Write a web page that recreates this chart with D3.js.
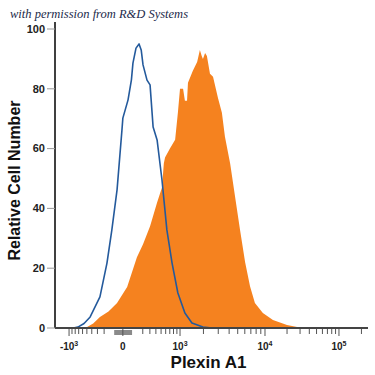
<!DOCTYPE html>
<html>
<head>
<meta charset="utf-8">
<script src="https://cdn.jsdelivr.net/npm/d3@7"></script>
<style>
  body { margin: 0; background: #fff; }
  svg { display: block; }
</style>
</head>
<body>
<div id="chart"></div>
<script>
// histogram data on a 0-1024 display channel scale
const blueChannel = [0, 60, 75, 95, 115, 147, 170, 186, 203, 219, 222, 239, 250, 255, 265, 275, 282, 288, 301, 311, 321, 334, 350, 366, 383, 402, 425, 448, 484, 514, 1024]
const blueCount = [0, 0, 0.3, 1.5, 3.7, 10.4, 21.7, 32.8, 46.2, 66.2, 70.2, 76.3, 83, 88.6, 93.6, 95, 93, 88, 82.9, 81.3, 67.2, 62.9, 49.5, 32.8, 21.7, 11.7, 5, 1.7, 0.3, 0, 0]

const orangeChannel = [0, 95, 105, 125, 147, 175, 203, 236, 268, 288, 311, 334, 350, 356, 360, 376, 393, 402, 409, 419, 425, 432, 435, 451, 465, 474, 480, 484, 491, 497, 507, 517, 533, 546, 556, 573, 589, 605, 622, 638, 654, 680, 713, 759, 792, 802, 1024]
const orangeCount = [0, 0, 0.3, 1.5, 3.7, 5.5, 8.4, 13.7, 23.7, 28, 34, 42, 47, 55, 57, 60, 63, 72, 80, 80, 76, 76, 82, 86, 89, 93, 91, 90, 92, 91, 85, 84, 77, 72, 64, 55, 44, 33, 22, 14, 8.4, 5, 2.7, 1, 0.3, 0, 0]

// axis
const yTicks = [0, 20, 40, 60, 80, 100]
const xMajor = [-1000, 0, 1000, 10000, 100000]
const xMajorChannel = [46, 222, 409, 687, 929]
const xMajorLabels = [['-10', '3'], ['0', ''], ['10', '3'], ['10', '4'], ['10', '5']]
const xMinor = [
  -900, -800, -700, -600, -500, -400, -300, -200,
  200, 300, 400, 500, 600, 700, 800, 900,
  2000, 3000, 4000, 5000, 6000, 7000, 8000, 9000,
  20000, 30000, 40000, 50000, 60000, 70000, 80000, 90000,
  200000
]

const margin = { top: 29, left: 55, right: 7, bottom: 47 }
const width = 375 - margin.left - margin.right
const height = 375 - margin.top - margin.bottom

const svg = d3
  .select('#chart')
  .append('svg')
  .attr('width', 375)
  .attr('height', 375)

const g = svg
  .append('g')
  .attr('transform', 'translate(' + margin.left + ',' + margin.top + ')')

const xScale = d3.scaleLinear().domain([0, 1024]).range([0, width])
const valueToChannel = d3
  .scaleSymlog()
  .constant(300)
  .domain(xMajor)
  .range(xMajorChannel)
const xVal = v => xScale(valueToChannel(v))

const yScale = d3.scaleLinear().domain([0, 100]).range([height, 0])

// orange filled histogram
const area = d3
  .area()
  .x(d => xScale(d[0]))
  .y0(height)
  .y1(d => yScale(d[1]))

g.append('path')
  .datum(d3.zip(orangeChannel, orangeCount))
  .attr('d', area)
  .attr('fill', '#f5821f')

// blue isotype outline
const line = d3
  .line()
  .x(d => xScale(d[0]))
  .y(d => yScale(d[1]))

g.append('path')
  .datum(d3.zip(blueChannel, blueCount))
  .attr('d', line)
  .attr('fill', 'none')
  .attr('stroke', '#245a9c')
  .attr('stroke-width', 1.6)
  .attr('stroke-linejoin', 'round')

// y axis
g.append('line')
  .attr('x1', 0)
  .attr('x2', 0)
  .attr('y1', -7)
  .attr('y2', height)
  .attr('stroke', '#000')
  .attr('stroke-width', 1.5)

const yAxis = g.append('g')
yAxis
  .selectAll('.ytick')
  .data(yTicks)
  .enter()
  .append('line')
  .attr('x1', -8)
  .attr('x2', 0)
  .attr('y1', d => yScale(d))
  .attr('y2', d => yScale(d))
  .attr('stroke', '#999')
  .attr('stroke-width', 1)

yAxis
  .selectAll('.ylabel')
  .data(yTicks)
  .enter()
  .append('text')
  .attr('x', -10)
  .attr('y', d => yScale(d))
  .attr('dy', '0.35em')
  .attr('text-anchor', 'end')
  .style('font-family', 'Liberation Sans, Arial, sans-serif')
  .style('font-size', '11px')
  .style('font-weight', 700)
  .attr('fill', '#222')
  .text(d => d)

// x axis
g.append('rect')
  .attr('x', xVal(-80))
  .attr('y', height + 2)
  .attr('width', xVal(80) - xVal(-80))
  .attr('height', 5)
  .attr('fill', '#8a8a8a')

g.append('line')
  .attr('x1', 0)
  .attr('x2', width)
  .attr('y1', height)
  .attr('y2', height)
  .attr('stroke', '#444')
  .attr('stroke-width', 2)

g.selectAll('.xminor')
  .data(xMinor)
  .enter()
  .append('line')
  .attr('x1', d => xVal(d))
  .attr('x2', d => xVal(d))
  .attr('y1', height + 1)
  .attr('y2', height + 6)
  .attr('stroke', '#555')
  .attr('stroke-width', 1)

g.selectAll('.xmajor')
  .data(xMajor)
  .enter()
  .append('line')
  .attr('x1', d => xVal(d))
  .attr('x2', d => xVal(d))
  .attr('y1', height + 1)
  .attr('y2', height + 8)
  .attr('stroke', '#555')
  .attr('stroke-width', 1)

const xLabels = g
  .selectAll('.xlabel')
  .data(d3.zip(xMajor, xMajorLabels))
  .enter()
  .append('text')
  .attr('x', d => xVal(d[0]))
  .attr('y', height + 22)
  .attr('text-anchor', 'middle')
  .style('font-family', 'Liberation Sans, Arial, sans-serif')
  .style('font-size', '10px')
  .style('font-weight', 700)
  .attr('fill', '#222')

xLabels.append('tspan').text(d => d[1][0])
xLabels
  .append('tspan')
  .attr('dy', -4)
  .style('font-size', '7px')
  .text(d => d[1][1])

// axis titles
g.append('text')
  .attr('x', width / 2 - 3)
  .attr('y', height + 40)
  .attr('text-anchor', 'middle')
  .style('font-family', 'Liberation Sans, Arial, sans-serif')
  .style('font-size', '17px')
  .style('font-weight', 700)
  .attr('fill', '#111')
  .text('Plexin A1')

g.append('text')
  .attr('transform', `translate(-35, ${height / 2 + 2}) rotate(-90)`)
  .attr('text-anchor', 'middle')
  .style('font-family', 'Liberation Sans, Arial, sans-serif')
  .style('font-size', '16px')
  .style('font-weight', 700)
  .attr('fill', '#111')
  .text('Relative Cell Number')

// credit line
svg
  .append('text')
  .attr('x', 10)
  .attr('y', 18)
  .style('font-family', 'Liberation Serif, DejaVu Serif, serif')
  .style('font-style', 'italic')
  .style('font-size', '12.5px')
  .attr('fill', '#1c2a4a')
  .text('with permission from R&D Systems')
</script>
</body>
</html>
